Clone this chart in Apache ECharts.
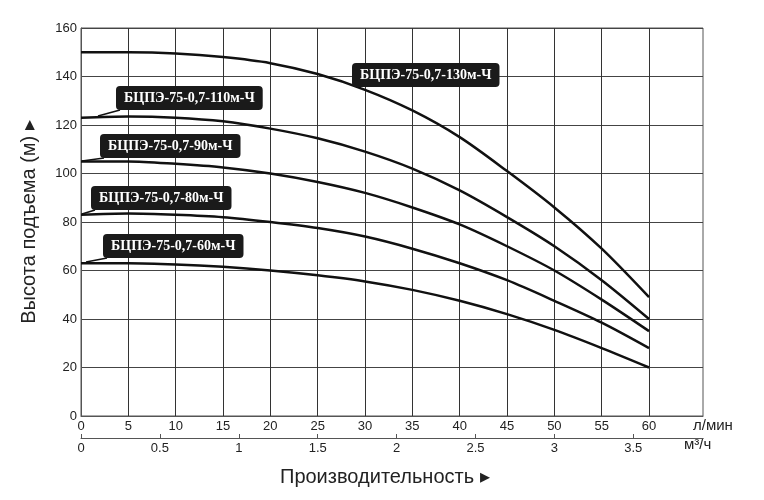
<!DOCTYPE html>
<html>
<head>
  <meta charset="utf-8">
  <script src="https://cdn.jsdelivr.net/npm/echarts@6/dist/echarts.min.js"></script>
</head>
<body style="margin:0">
<div id="main" style="height:500px;width:764px"></div>
<script type="text/javascript">
  // flow, л/мин
  var flow = [0, 5, 10, 15, 20, 25, 30, 35, 40, 45, 50, 55, 60];
  var h130 = [150, 150, 149.5, 148, 145.5, 141, 134.5, 126, 115, 101, 86, 69, 49];
  var h110 = [123, 123.5, 123, 121.5, 118.5, 114.5, 109, 102, 93, 82, 70, 56, 40];
  var h90 = [105, 105, 104, 102.5, 100, 96.5, 92, 86, 79, 70, 60, 48, 35];
  var h80 = [83, 83.5, 83, 82, 80, 77.5, 74, 69, 63, 56, 47.5, 38.5, 28];
  var h60 = [63, 63, 62.5, 61.5, 60, 58, 55.5, 52, 47.5, 42, 35.5, 28, 20];
  var names = ['БЦПЭ-75-0,7-130м-Ч', 'БЦПЭ-75-0,7-110м-Ч', 'БЦПЭ-75-0,7-90м-Ч', 'БЦПЭ-75-0,7-80м-Ч', 'БЦПЭ-75-0,7-60м-Ч'];
  var gridX = [5, 10, 15, 20, 25, 30, 35, 40, 45, 50, 55, 60];

  var myChart = echarts.init(document.getElementById('main'));
  var all = [h130, h110, h90, h80, h60];
  var series = all.map(function (h, i) {
    return {
      name: names[i],
      type: 'line',
      smooth: 0.3,
      symbol: 'none',
      xAxisIndex: 0,
      z: 5,
      lineStyle: { color: '#111', width: 2.5 },
      data: flow.map(function (f, j) { return [f, h[j]]; })
    };
  });
  // vertical grid lines only up to 60
  series.push({
    type: 'line', data: [], xAxisIndex: 0, z: 1,
    markLine: {
      silent: true, symbol: 'none', label: { show: false }, z: 1,
      lineStyle: { color: '#333', width: 1, type: 'solid' },
      data: gridX.map(function (v) { return { xAxis: v }; })
    }
  });

  // label boxes: [name index, left, top, pointer end x, y]
  var boxes = [[0, 352, 63, 0, 0], [1, 116, 86, 98, 116], [2, 100, 134, 82, 161], [3, 91, 186, 82, 214], [4, 103, 234, 86, 262]];
  var graphic = [{ type: 'rect', shape: { x: 81, y: 28, width: 622, height: 388 }, style: { fill: 'none', stroke: '#555', lineWidth: 1 }, z: 0 }];
  boxes.forEach(function (b) {
    if (b[3]) {
      graphic.push({ type: 'line', z: 100, shape: { x1: b[1] + 4, y1: b[2] + 24, x2: b[3], y2: b[4] }, style: { stroke: '#111', lineWidth: 1.5 } });
    }
    graphic.push({
      type: 'text', left: b[1], top: b[2], z: 100,
      style: {
        text: names[b[0]], fill: '#fff', font: 'bold 14px "Liberation Serif"',
        backgroundColor: '#1a1a1a', borderRadius: 4, padding: [5, 8, 5, 8]
      }
    });
  });
  graphic.push({ type: 'text', left: 280, top: 467, style: { text: 'Производительность ▸', font: '20px "Liberation Sans"', fill: '#222' } });
  graphic.push({ type: 'text', left: 693, top: 418, style: { text: 'л/мин', font: '15px "Liberation Sans"', fill: '#222' } });
  graphic.push({ type: 'text', left: 684, top: 437, style: { text: 'м³/ч', font: '15px "Liberation Sans"', fill: '#222' } });

  option = {
    animation: false,
    grid: { left: 81, top: 28, right: 61, bottom: 84 },
    xAxis: [
      {
        type: 'value', min: 0, max: 65.7, interval: 5,
        axisLine: { lineStyle: { color: '#555' } },
        axisTick: { show: false },
        splitLine: { show: false },
        axisLabel: { color: '#222', fontSize: 13, margin: 4, showMaxLabel: false,
          formatter: function (v) { return v > 60 ? '' : v; } }
      },
      {
        type: 'value', position: 'bottom', offset: 22, min: 0, max: 3.942, interval: 0.5,
        axisLine: { show: true, lineStyle: { color: '#555' } },
        axisTick: { show: true, inside: true, length: 4, lineStyle: { color: '#555' } },
        splitLine: { show: false },
        axisLabel: { color: '#222', fontSize: 13, margin: 4, showMaxLabel: false,
          formatter: function (v) { return v > 3.6 ? '' : v; } }
      }
    ],
    yAxis: {
      type: 'value', min: 0, max: 160, interval: 20,
      name: 'Высота подъема (м) ▸', nameLocation: 'middle', nameGap: 42, nameRotate: 90,
      nameTextStyle: { fontSize: 20, color: '#222' },
      axisLine: { show: true, lineStyle: { color: '#555' } },
      axisTick: { show: false },
      axisLabel: { color: '#222', fontSize: 13, margin: 4 },
      splitLine: { lineStyle: { color: '#444', width: 1 } }
    },
    graphic: graphic,
    series: series
  };
  myChart.setOption(option);
</script>
</body>
</html>
